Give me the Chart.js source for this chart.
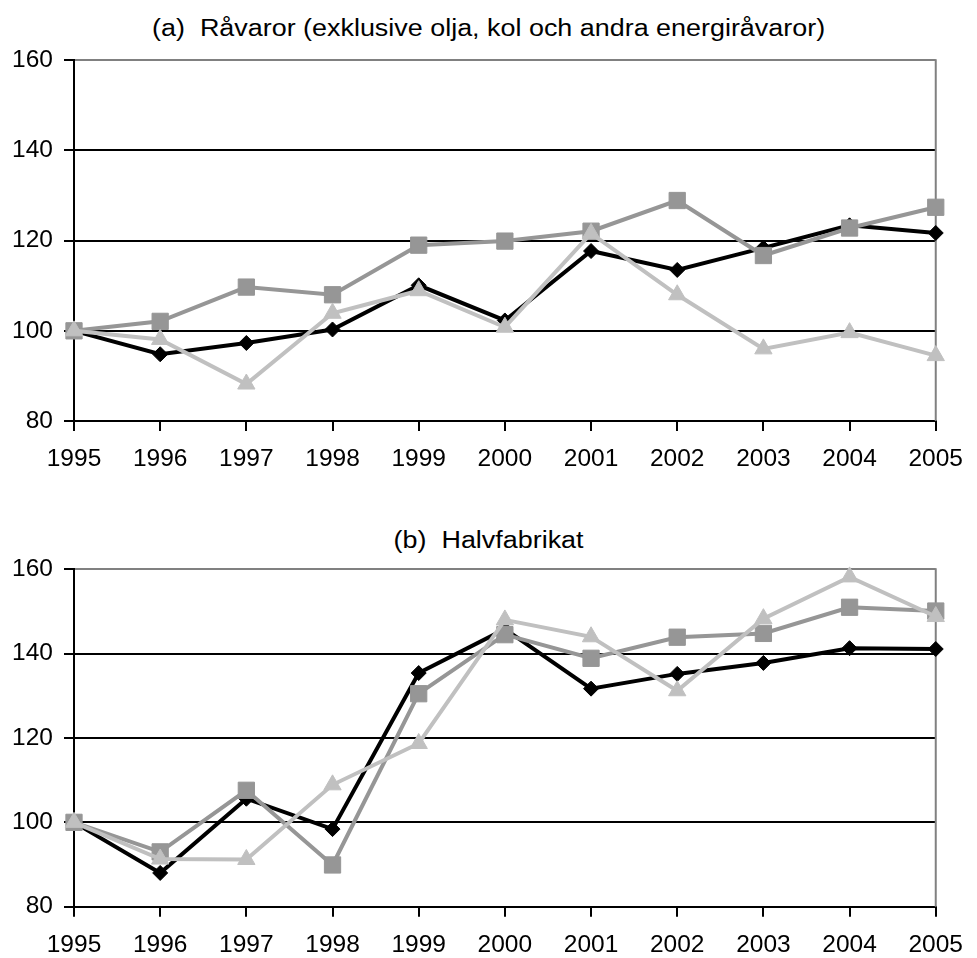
<!DOCTYPE html>
<html lang="sv">
<head>
<meta charset="utf-8">
<title>Råvaror och halvfabrikat 1995–2005</title>
<script src="https://cdn.jsdelivr.net/npm/chart.js@4/dist/chart.umd.min.js"></script>
<style>
  html, body { margin: 0; padding: 0; background: #ffffff; }
  #page { position: relative; width: 977px; height: 958px; overflow: hidden; }
  .wrap { position: absolute; left: 0; width: 977px; }
  .wrap canvas { display: block; }
  .title {
    position: absolute; left: 0; width: 977px; text-align: center;
    font-family: "Liberation Sans", Arial, sans-serif; font-size: 23px;
    line-height: 23px; color: #000; white-space: nowrap;
    transform: scaleX(1.17); transform-origin: 488px 0;
  }
</style>
</head>
<body>
<div id="page">
  <div class="title" style="top:17px">(a)&nbsp; Råvaror (exklusive olja, kol och andra energiråvaror)</div>
  <div class="title" style="top:529px">(b)&nbsp; Halvfabrikat</div>
  <div class="wrap" style="top:0; height:500px"><canvas id="chartA" width="977" height="500"></canvas></div>
  <div class="wrap" style="top:470px; height:488px"><canvas id="chartB" width="977" height="488"></canvas></div>
</div>
<script>
// Years on the horizontal axis
const years = ['1995', '1996', '1997', '1998', '1999', '2000', '2001', '2002', '2003', '2004', '2005'];

// Index values, 1995 = 100
// (a) Råvaror
const ravarorSerie1 = [100, 94.8, 97.3, 100.3, 110.1, 102.3, 117.7, 113.5, 118.4, 123.4, 121.7];
const ravarorSerie2 = [100, 102.1, 109.7, 108.0, 119.0, 119.9, 122.1, 128.9, 116.7, 122.8, 127.4];
const ravarorSerie3 = [100, 98.1, 88.2, 103.9, 108.9, 100.8, 121.6, 108.0, 96.0, 99.6, 94.5];

// (b) Halvfabrikat
const halvSerie1 = [100, 88.0, 105.6, 98.4, 135.4, 145.8, 131.7, 135.2, 137.8, 141.3, 141.1];
const halvSerie2 = [100, 93.0, 107.6, 89.9, 130.5, 144.5, 138.9, 143.9, 144.8, 151.0, 150.1];
const halvSerie3 = [100, 91.3, 91.2, 108.9, 118.7, 148.0, 144.0, 131.2, 148.3, 158.2, 148.8];

// Value axis
const yMin = 80, yMax = 160, yStep = 20;

const FONT = '"Liberation Sans", Arial, sans-serif';

function styled(data, color, pointStyle, radius, order) {
  return {
    data,
    borderColor: color,
    backgroundColor: color,
    borderWidth: 4,
    tension: 0,
    pointStyle,
    pointRadius: radius,
    pointHoverRadius: radius,
    pointBorderWidth: 1,
    pointBorderColor: color,
    pointBackgroundColor: color,
    clip: false,
    order
  };
}

// Gray frame line on the right edge of the plot area
const rightFrame = {
  id: 'rightFrame',
  beforeDatasetsDraw(chart) {
    const { ctx, chartArea } = chart;
    ctx.save();
    ctx.strokeStyle = '#808080';
    ctx.lineWidth = 2;
    ctx.beginPath();
    ctx.moveTo(chartArea.right, chartArea.top - 1);
    ctx.lineTo(chartArea.right, chartArea.bottom);
    ctx.stroke();
    ctx.restore();
  }
};

function makeChart(id, s1, s2, s3, padTop, xAxisHeight) {
  return new Chart(document.getElementById(id), {
    type: 'line',
    data: {
      labels: years,
      datasets: [
        styled(s1, '#000000', 'rectRot', 7.5, 2),
        styled(s2, '#969696', 'rect', 11.5, 1),
        styled(s3, '#c0c0c0', 'triangle', 10, 0)
      ]
    },
    options: {
      responsive: false,
      animation: false,
      events: [],
      layout: { padding: { top: padTop, right: 31, bottom: 0, left: 0 } },
      plugins: { legend: { display: false }, tooltip: { enabled: false }, title: { display: false } },
      scales: {
        x: {
          type: 'category',
          offset: false,
          border: { display: true, color: '#000000', width: 2 },
          grid: { drawOnChartArea: false, drawTicks: true, tickLength: 10, tickColor: '#000000', tickWidth: 2, lineWidth: 2, color: '#000000' },
          ticks: { color: '#000000', font: { family: FONT, size: 24.5 }, padding: 14, maxRotation: 0, autoSkip: false },
          afterFit(scale) { scale.height = xAxisHeight; }
        },
        y: {
          min: yMin,
          max: yMax,
          border: { display: true, color: '#000000', width: 2 },
          grid: {
            drawTicks: true,
            tickLength: 10,
            tickColor: '#000000',
            tickWidth: 2,
            lineWidth: 2,
            color: (c) => (c.tick && c.tick.value === yMax ? '#808080' : '#000000')
          },
          ticks: { stepSize: yStep, color: '#000000', font: { family: FONT, size: 24.5 }, padding: 11 },
          afterFit(scale) { scale.width = 74; }
        }
      }
    },
    plugins: [rightFrame]
  });
}

makeChart('chartA', ravarorSerie1, ravarorSerie2, ravarorSerie3, 60.3, 500 - 421);
makeChart('chartB', halvSerie1, halvSerie2, halvSerie3, 569.3 - 470, 488 - (906.7 - 470));
</script>
</body>
</html>
